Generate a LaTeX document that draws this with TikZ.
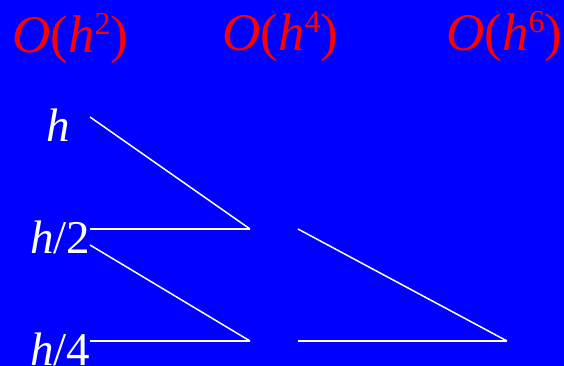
\documentclass[tikz,border=0pt]{standalone}
\usepackage{fontspec}
\setmainfont{Liberation Serif}
\newcommand\myOh[1]{\textit{O}(\textit{h}\raisebox{18pt}{\fontsize{32}{32}\selectfont #1})}
\begin{document}
\begin{tikzpicture}[x=1pt,y=-1pt,
  redlbl/.style={text=red,font=\fontsize{53}{60}\selectfont,inner sep=0pt,anchor=base west},
  whitelbl/.style={text=white,font=\fontsize{47}{56}\selectfont\itshape,inner sep=0pt,anchor=base west},
  conn/.style={draw=white,line width=1.5pt}]
\fill[blue] (0,0) rectangle (564,366);
\useasboundingbox (0,0) rectangle (564,366);
\node[redlbl] (o2) at (12,53) {\myOh{2}};
\node[redlbl] (o4) at (222,51) {\myOh{4}};
\node[redlbl] (o6) at (446,51) {\myOh{6}};
\node[whitelbl] (h1) at (46,142) {h};
\node[whitelbl] (h2) at (30,253) {h\upshape/2};
\node[whitelbl] (h4) at (30,365) {h\upshape/4};
\coordinate (a1) at (90,117);
\coordinate (a2) at (90,229);
\coordinate (a2b) at (90,245);
\coordinate (a4) at (90,341);
\coordinate (b2) at (250,229);
\coordinate (b4) at (250,341);
\coordinate (c2) at (298,229);
\coordinate (c4) at (298,341);
\coordinate (d4) at (507,341);
\draw[conn] (a1) -- (b2);
\draw[conn] (a2) -- (b2);
\draw[conn] (a2b) -- (b4);
\draw[conn] (a4) -- (b4);
\draw[conn] (c2) -- (d4);
\draw[conn] (c4) -- (d4);
\end{tikzpicture}
\end{document}
